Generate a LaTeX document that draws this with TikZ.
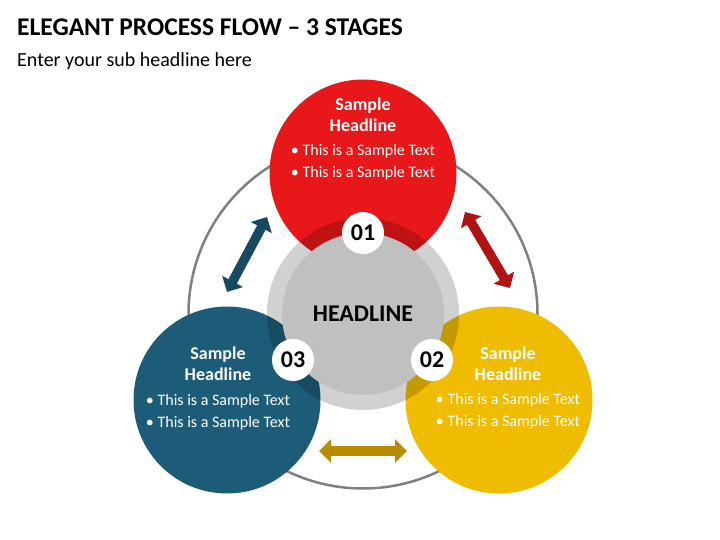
\documentclass[tikz,border=0pt]{standalone}
\usepackage{fontspec}
\setmainfont{Carlito}
\usetikzlibrary{arrows.meta,positioning}
\definecolor{efred}{HTML}{E8171A}
\definecolor{efyellow}{HTML}{EFBC00}
\definecolor{efblue}{HTML}{1D5C78}
\definecolor{efgray}{HTML}{C0C0C0}
\definecolor{efoutline}{HTML}{808080}
\definecolor{efarrred}{HTML}{B11212}
\definecolor{efarrgold}{HTML}{B98B00}
\definecolor{efarrteal}{HTML}{174A60}
\tikzset{
  efstage/.style={circle, inner sep=0pt, minimum size=187pt},
  efbadge/.style={circle, fill=white, inner sep=0pt, minimum size=42pt, font=\fontsize{24}{24}\selectfont\bfseries},
  efhead/.style={text=white, align=center, inner sep=0pt, font=\fontsize{18}{21}\selectfont\bfseries},
  efbullets/.style={text=white, align=left, inner sep=0pt, font=\fontsize{16}{22.5}\selectfont},
  efarr/.style={{Triangle[length=12pt,width=23pt]}-{Triangle[length=12pt,width=23pt]}, line width=9.5pt}
}

\begin{document}
\begin{tikzpicture}[x=1pt, y=-1pt]
  \useasboundingbox (0,0) rectangle (720,540);
  \node[anchor=base west, inner sep=0pt, font=\fontsize{25.5}{25.5}\selectfont\bfseries] (title) at (17,36) {ELEGANT PROCESS FLOW – 3 STAGES};
  \node[anchor=base west, inner sep=0pt, font=\fontsize{20}{20}\selectfont] (subtitle) at (17,67) {Enter your sub headline here};
  % outer guide ring
  \node[circle, draw=efoutline, line width=2.5pt, inner sep=0pt, minimum size=349pt] (guide) at (363,314) {};
  % stages
  \node[efstage, fill=efred] (stage1) at (363,173) {};
  \node[efstage, fill=efyellow] (stage2) at (499,400) {};
  \node[efstage, fill=efblue] (stage3) at (227,400) {};
  % hub
  \node[circle, fill=black, fill opacity=.18, inner sep=0pt, minimum size=192pt] (hubring) at (363,314) {};
  \node[circle, fill=efgray, inner sep=0pt, minimum size=162pt, font=\fontsize{24}{24}\selectfont\bfseries] (hub) at (363,314) {HEADLINE};
  % texts
  \node[efhead] (head1) at (363,115) {Sample\\Headline};
  \node[efbullets] (text1) at (363,162) {\textbullet\ This is a Sample Text\\\textbullet\ This is a Sample Text};
  \node[efhead] (head2) at (508,364) {Sample\\Headline};
  \node[efbullets] (text2) at (508,411) {\textbullet\ This is a Sample Text\\\textbullet\ This is a Sample Text};
  \node[efhead] (head3) at (218,364) {Sample\\Headline};
  \node[efbullets] (text3) at (218,412) {\textbullet\ This is a Sample Text\\\textbullet\ This is a Sample Text};
  % badges
  \node[efbadge] (badge1) at (363,233) {01};
  \node[efbadge] (badge2) at (432,360) {02};
  \node[efbadge] (badge3) at (293,360) {03};
  % arrows
  \coordinate (a13) at (267,217);
  \coordinate (a31) at (227,292);
  \coordinate (a12) at (465,212);
  \coordinate (a21) at (510,288);
  \coordinate (a32) at (319,451);
  \coordinate (a23) at (407,451);
  \draw[efarr, draw=efarrteal, fill=efarrteal] (a13) -- (a31);
  \draw[efarr, draw=efarrred, fill=efarrred] (a12) -- (a21);
  \draw[efarr, draw=efarrgold, fill=efarrgold] (a32) -- (a23);
\end{tikzpicture}
\end{document}
